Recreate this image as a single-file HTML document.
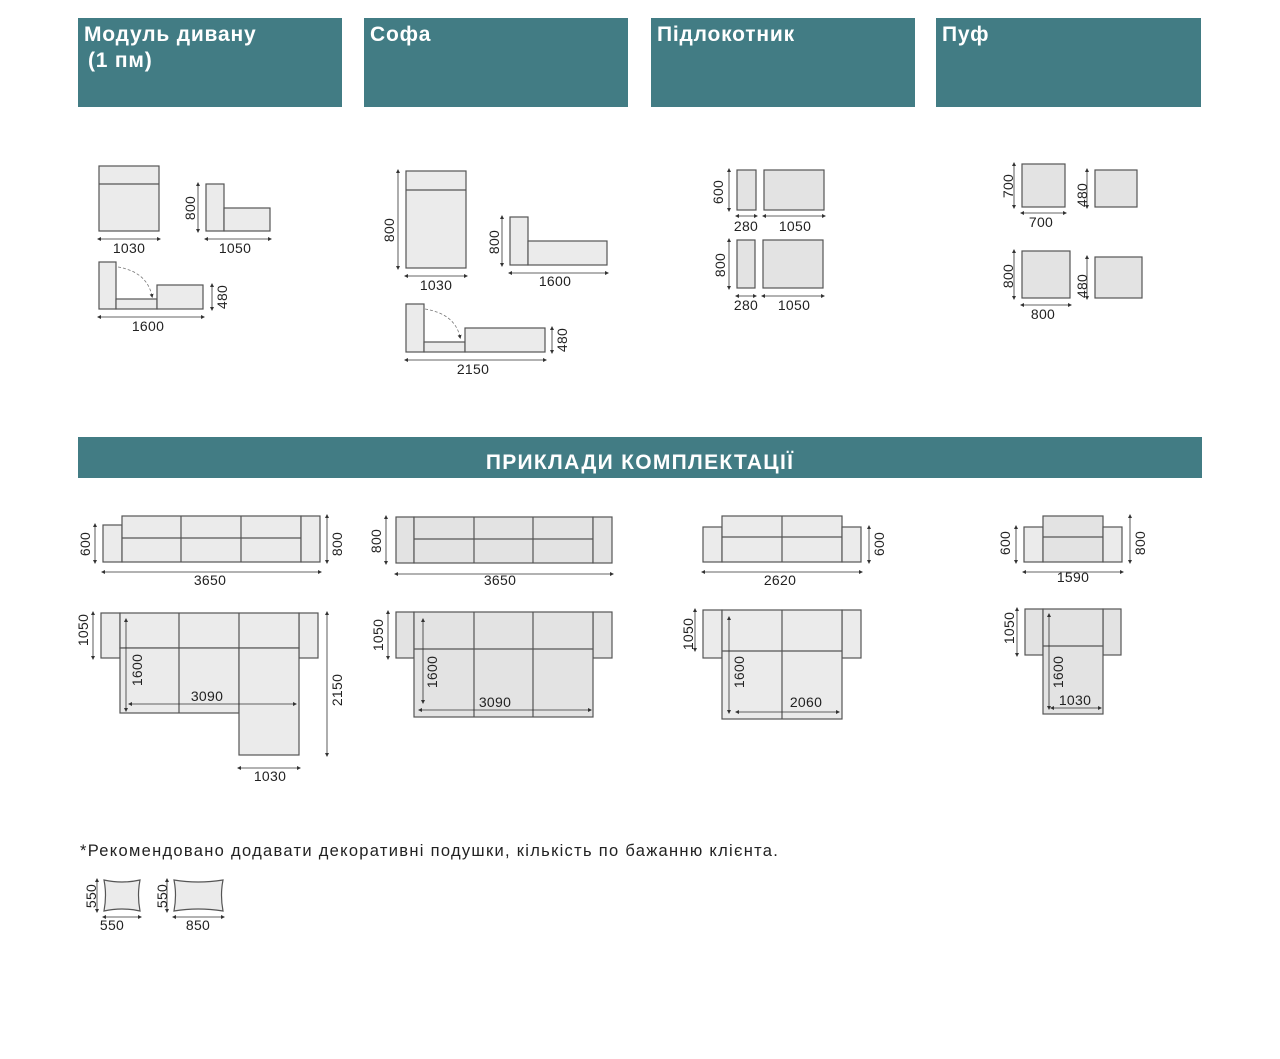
<!DOCTYPE html>
<html><head><meta charset="utf-8"><style>
html,body{margin:0;padding:0;background:#fff;width:1280px;height:1059px;overflow:hidden}
svg{display:block}
.h{fill:#fff;font-family:"Liberation Sans","DejaVu Sans",sans-serif;font-weight:bold;font-size:21px;letter-spacing:0.8px}
.r{fill:#ebebeb;stroke:#555;stroke-width:1.2}
.r2{fill:#e3e3e3;stroke:#555;stroke-width:1.2}
.l{stroke:#555;stroke-width:1.2;fill:none}
.d{stroke:#333;stroke-width:0.8;fill:none;marker-start:url(#a);marker-end:url(#a)}
.t{font-family:"Liberation Sans","DejaVu Sans",sans-serif;font-size:14px;fill:#222;text-anchor:middle;letter-spacing:0.3px}
</style></head><body>
<svg width="1280" height="1059" viewBox="0 0 1280 1059" xmlns="http://www.w3.org/2000/svg">
<defs><marker id="a" viewBox="0 0 6 6" refX="3" refY="3" markerWidth="5" markerHeight="5" orient="auto-start-reverse"><path d="M0,0 L6,3 L0,6z" fill="#333"/></marker></defs>
<g fill="#427c84">
<rect x="78" y="18" width="264" height="89"/><rect x="364" y="18" width="264" height="89"/>
<rect x="651" y="18" width="264" height="89"/><rect x="936" y="18" width="265" height="89"/>
<rect x="78" y="437" width="1124" height="41"/></g>
<text class="h" x="84" y="41">Модуль дивану</text><text class="h" x="88" y="67">(1 пм)</text>
<text class="h" x="370" y="41">Софа</text><text class="h" x="657" y="41">Підлокотник</text><text class="h" x="942" y="41">Пуф</text>
<text class="h" x="640" y="469" text-anchor="middle" style="font-size:21px;letter-spacing:1.3px">ПРИКЛАДИ КОМПЛЕКТАЦІЇ</text>

<!-- module -->
<rect class="r" x="99" y="166" width="60" height="65"/><line class="l" x1="99" y1="184" x2="159" y2="184"/>
<line class="d" x1="99" y1="239" x2="159" y2="239"/><text class="t" x="129" y="253">1030</text>
<rect class="r" x="206" y="184" width="18" height="47"/><rect class="r" x="224" y="208" width="46" height="23"/>
<line class="d" x1="198" y1="184" x2="198" y2="231"/><text class="t" transform="translate(195,208) rotate(-90)">800</text>
<line class="d" x1="206" y1="239" x2="270" y2="239"/><text class="t" x="235" y="253">1050</text>
<rect class="r" x="99" y="262" width="17" height="47"/><rect class="r" x="116" y="299" width="41" height="10"/><rect class="r" x="157" y="285" width="46" height="24"/>
<path d="M118,267 Q147,272 152,296" stroke="#777" stroke-dasharray="3,2" fill="none" marker-end="url(#a)" stroke-width="0.8"/>
<line class="d" x1="99" y1="317" x2="203" y2="317"/><text class="t" x="148" y="331">1600</text>
<line class="d" x1="212" y1="285" x2="212" y2="309"/><text class="t" transform="translate(227,297) rotate(-90)">480</text>

<!-- sofa -->
<rect class="r" x="406" y="171" width="60" height="97"/><line class="l" x1="406" y1="190" x2="466" y2="190"/>
<line class="d" x1="398" y1="171" x2="398" y2="268"/><text class="t" transform="translate(394,230) rotate(-90)">800</text>
<line class="d" x1="406" y1="276" x2="466" y2="276"/><text class="t" x="436" y="290">1030</text>
<rect class="r" x="510" y="217" width="18" height="48"/><rect class="r" x="528" y="241" width="79" height="24"/>
<line class="d" x1="502" y1="217" x2="502" y2="265"/><text class="t" transform="translate(499,242) rotate(-90)">800</text>
<line class="d" x1="510" y1="273" x2="607" y2="273"/><text class="t" x="555" y="286">1600</text>
<rect class="r" x="406" y="304" width="18" height="48"/><rect class="r" x="424" y="342" width="41" height="10"/><rect class="r" x="465" y="328" width="80" height="24"/>
<path d="M425,309 Q455,314 460,337" stroke="#777" stroke-dasharray="3,2" fill="none" marker-end="url(#a)" stroke-width="0.8"/>
<line class="d" x1="406" y1="360" x2="545" y2="360"/><text class="t" x="473" y="374">2150</text>
<line class="d" x1="552" y1="328" x2="552" y2="352"/><text class="t" transform="translate(567,340) rotate(-90)">480</text>

<!-- armrest -->
<rect class="r2" x="737" y="170" width="19" height="40"/><rect class="r2" x="764" y="170" width="60" height="40"/>
<line class="d" x1="729" y1="170" x2="729" y2="210"/><text class="t" transform="translate(723,192) rotate(-90)">600</text>
<line class="d" x1="737" y1="216" x2="756" y2="216"/><text class="t" x="746" y="231">280</text>
<line class="d" x1="764" y1="216" x2="824" y2="216"/><text class="t" x="795" y="231">1050</text>
<rect class="r2" x="737" y="240" width="18" height="48"/><rect class="r2" x="763" y="240" width="60" height="48"/>
<line class="d" x1="729" y1="240" x2="729" y2="288"/><text class="t" transform="translate(725,265) rotate(-90)">800</text>
<line class="d" x1="737" y1="296" x2="755" y2="296"/><text class="t" x="746" y="310">280</text>
<line class="d" x1="763" y1="296" x2="823" y2="296"/><text class="t" x="794" y="310">1050</text>

<!-- puf -->
<rect class="r2" x="1022" y="164" width="43" height="43"/>
<line class="d" x1="1014" y1="164" x2="1014" y2="207"/><text class="t" transform="translate(1013,186) rotate(-90)">700</text>
<line class="d" x1="1022" y1="213" x2="1065" y2="213"/><text class="t" x="1041" y="227">700</text>
<rect class="r2" x="1095" y="170" width="42" height="37"/>
<line class="d" x1="1087" y1="170" x2="1087" y2="207"/><text class="t" transform="translate(1087,195) rotate(-90)">480</text>
<rect class="r2" x="1022" y="251" width="48" height="47"/>
<line class="d" x1="1014" y1="251" x2="1014" y2="298"/><text class="t" transform="translate(1013,276) rotate(-90)">800</text>
<line class="d" x1="1022" y1="305" x2="1070" y2="305"/><text class="t" x="1043" y="319">800</text>
<rect class="r2" x="1095" y="257" width="47" height="41"/>
<line class="d" x1="1087" y1="257" x2="1087" y2="298"/><text class="t" transform="translate(1087,286) rotate(-90)">480</text>

<!-- examples row 1 -->
<rect class="r" x="103" y="525" width="19" height="37"/><rect class="r" x="122" y="516" width="179" height="46"/><rect class="r" x="301" y="516" width="19" height="46"/>
<path class="l" d="M181,516V562M241,516V562M122,538H301"/>
<line class="d" x1="95" y1="525" x2="95" y2="562"/><text class="t" transform="translate(90,544) rotate(-90)">600</text>
<line class="d" x1="327" y1="516" x2="327" y2="562"/><text class="t" transform="translate(342,544) rotate(-90)">800</text>
<line class="d" x1="103" y1="572" x2="320" y2="572"/><text class="t" x="210" y="585">3650</text>

<rect class="r2" x="396" y="517" width="18" height="46"/><rect class="r2" x="414" y="517" width="179" height="46"/><rect class="r2" x="593" y="517" width="19" height="46"/>
<path class="l" d="M474,517V563M533,517V563M414,539H593"/>
<line class="d" x1="386" y1="517" x2="386" y2="563"/><text class="t" transform="translate(381,541) rotate(-90)">800</text>
<line class="d" x1="396" y1="574" x2="612" y2="574"/><text class="t" x="500" y="585">3650</text>

<rect class="r" x="703" y="527" width="19" height="35"/><rect class="r" x="722" y="516" width="120" height="46"/><rect class="r" x="842" y="527" width="19" height="35"/>
<path class="l" d="M782,516V562M722,537H842"/>
<line class="d" x1="869" y1="527" x2="869" y2="562"/><text class="t" transform="translate(884,544) rotate(-90)">600</text>
<line class="d" x1="703" y1="572" x2="861" y2="572"/><text class="t" x="780" y="585">2620</text>

<rect class="r" x="1024" y="527" width="19" height="35"/><rect class="r2" x="1043" y="516" width="60" height="46"/><rect class="r" x="1103" y="527" width="19" height="35"/>
<path class="l" d="M1043,537H1103"/>
<line class="d" x1="1016" y1="527" x2="1016" y2="562"/><text class="t" transform="translate(1010,543) rotate(-90)">600</text>
<line class="d" x1="1130" y1="516" x2="1130" y2="562"/><text class="t" transform="translate(1145,543) rotate(-90)">800</text>
<line class="d" x1="1024" y1="572" x2="1122" y2="572"/><text class="t" x="1073" y="582">1590</text>

<!-- examples row 2 -->
<rect class="r" x="101" y="613" width="19" height="45"/><rect class="r" x="299" y="613" width="19" height="45"/>
<rect class="r" x="120" y="613" width="179" height="35"/><rect class="r" x="120" y="648" width="119" height="65"/><rect class="r" x="239" y="648" width="60" height="107"/>
<path class="l" d="M179,613V713M239,613V648"/>
<line class="d" x1="93" y1="613" x2="93" y2="658"/><text class="t" transform="translate(88,630) rotate(-90)">1050</text>
<line class="d" x1="126" y1="620" x2="126" y2="710"/><text class="t" transform="translate(142,670) rotate(-90)">1600</text>
<line class="d" x1="130" y1="704" x2="295" y2="704"/><text class="t" x="207" y="701">3090</text>
<line class="d" x1="327" y1="613" x2="327" y2="755"/><text class="t" transform="translate(342,690) rotate(-90)">2150</text>
<line class="d" x1="239" y1="768" x2="299" y2="768"/><text class="t" x="270" y="781">1030</text>

<rect class="r2" x="396" y="612" width="18" height="46"/><rect class="r2" x="593" y="612" width="19" height="46"/>
<rect class="r2" x="414" y="612" width="179" height="105"/><path class="l" d="M474,612V717M533,612V717M414,649H593"/>
<line class="d" x1="388" y1="612" x2="388" y2="658"/><text class="t" transform="translate(383,635) rotate(-90)">1050</text>
<line class="d" x1="423" y1="620" x2="423" y2="702"/><text class="t" transform="translate(437,672) rotate(-90)">1600</text>
<line class="d" x1="420" y1="710" x2="590" y2="710"/><text class="t" x="495" y="707">3090</text>

<rect class="r" x="703" y="610" width="19" height="48"/><rect class="r" x="842" y="610" width="19" height="48"/>
<rect class="r" x="722" y="610" width="120" height="109"/><path class="l" d="M782,610V719M722,651H842"/>
<line class="d" x1="695" y1="610" x2="695" y2="650"/><text class="t" transform="translate(693,634) rotate(-90)">1050</text>
<line class="d" x1="729" y1="618" x2="729" y2="712"/><text class="t" transform="translate(744,672) rotate(-90)">1600</text>
<line class="d" x1="737" y1="712" x2="838" y2="712"/><text class="t" x="806" y="707">2060</text>

<rect class="r2" x="1025" y="609" width="18" height="46"/><rect class="r2" x="1103" y="609" width="18" height="46"/>
<rect class="r2" x="1043" y="609" width="60" height="105"/><path class="l" d="M1043,646H1103"/>
<line class="d" x1="1017" y1="609" x2="1017" y2="655"/><text class="t" transform="translate(1014,628) rotate(-90)">1050</text>
<line class="d" x1="1049" y1="615" x2="1049" y2="708"/><text class="t" transform="translate(1063,672) rotate(-90)">1600</text>
<line class="d" x1="1052" y1="708" x2="1100" y2="708"/><text class="t" x="1075" y="705">1030</text>

<text x="80" y="856" style="font-family:'Liberation Sans','DejaVu Sans',sans-serif;font-size:16.5px;letter-spacing:1.3px;fill:#222">*Рекомендовано додавати декоративні подушки, кількість по бажанню клієнта.</text>

<path class="r" d="M104,880 Q122,884 140,880 Q137,895 140,911 Q122,907 104,911 Q107,895 104,880z"/>
<line class="d" x1="97" y1="880" x2="97" y2="911"/><text class="t" transform="translate(96,896) rotate(-90)">550</text>
<line class="d" x1="104" y1="917" x2="140" y2="917"/><text class="t" x="112" y="930">550</text>
<path class="r" d="M174,880 Q198,884 223,880 Q220,895 223,911 Q198,907 174,911 Q177,895 174,880z"/>
<line class="d" x1="167" y1="880" x2="167" y2="911"/><text class="t" transform="translate(167,896) rotate(-90)">550</text>
<line class="d" x1="174" y1="917" x2="223" y2="917"/><text class="t" x="198" y="930">850</text>
</svg>
</body></html>
